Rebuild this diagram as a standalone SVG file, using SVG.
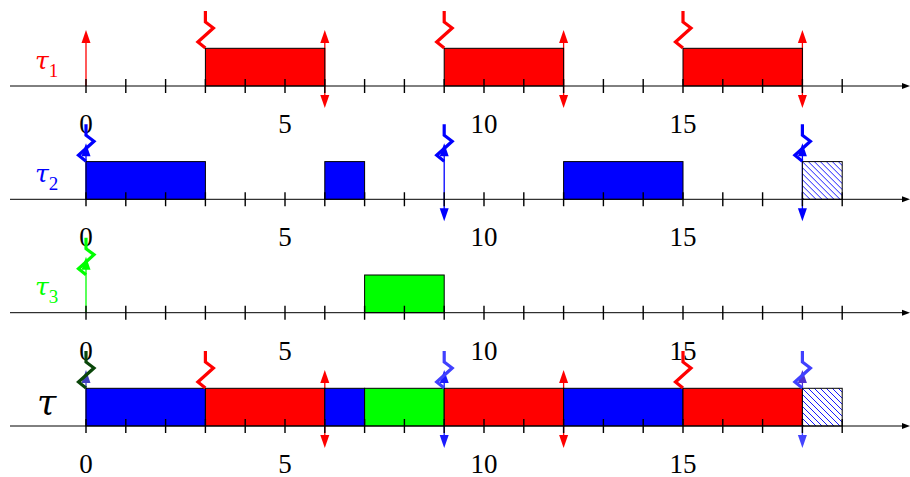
<svg xmlns="http://www.w3.org/2000/svg" xmlns:xlink="http://www.w3.org/1999/xlink" width="910" height="477" viewBox="0 0 910 477">
<style>
.axis{stroke:#000;stroke-width:1;fill:none}
.tick{stroke:#000;stroke-width:1.4;fill:none}
.bar{stroke:#000;stroke-width:1}
.num{font-family:"Liberation Serif","DejaVu Serif",serif;font-size:27px;fill:#000;text-anchor:middle}
.tau{font-family:"DejaVu Serif","Liberation Serif",serif;font-size:25px;font-style:italic}
.sub{font-family:"Liberation Serif","DejaVu Serif",serif;font-size:19px;font-style:normal}
.zz{fill:none;stroke-width:3.2;stroke-linejoin:miter}
.ln{stroke-width:1.3;fill:none}
</style>
<defs>
<pattern id="hatch" width="6" height="6" patternUnits="userSpaceOnUse">
<rect width="6" height="6" fill="#fff"/>
<path d="M-1,-1 L7,7 M-1,5 L1,7 M5,-1 L7,1" stroke="#0000ff" stroke-width="0.9"/>
</pattern>
<path id="zig" d="M0,-75 V-64 L8,-58 L-7.5,-44 L0,-38"/>
<path id="up" d="M0,-56 L-4.5,-43 L4.5,-43 Z"/>
<path id="dn" d="M0,22 L-4.5,9 L4.5,9 Z"/>
<g id="axisbase">
<path class="axis" d="M10,0 H905"/>
<path d="M910,0 L902,-3 L902,3 Z" fill="#000"/>
<path class="tick" d="M86,-7v14M125.8,-7v14M165.6,-7v14M205.4,-7v14M245.2,-7v14M285,-7v14M324.8,-7v14M364.6,-7v14M404.4,-7v14M444.2,-7v14M484,-7v14M523.8,-7v14M563.6,-7v14M603.4,-7v14M643.2,-7v14M683,-7v14M722.8,-7v14M762.6,-7v14M802.4,-7v14M842.2,-7v14"/>
</g>
<g id="nums">
<text class="num" x="86" y="47">0</text>
<text class="num" x="285" y="47">5</text>
<text class="num" x="484" y="47">10</text>
<text class="num" x="683" y="47">15</text>
</g>
</defs>

<g id="row1" transform="translate(0,86)">
<g id="row1-arrows">
<line class="ln" stroke="#ff0000" x1="86" y1="0" x2="86" y2="-44"/>
<use xlink:href="#up" x="86" fill="#ff0000"/>
<line class="ln" stroke="#ff0000" x1="324.8" y1="10" x2="324.8" y2="-44"/>
<use xlink:href="#up" x="324.8" fill="#ff0000"/><use xlink:href="#dn" x="324.8" fill="#ff0000"/>
<line class="ln" stroke="#ff0000" x1="563.6" y1="10" x2="563.6" y2="-44"/>
<use xlink:href="#up" x="563.6" fill="#ff0000"/><use xlink:href="#dn" x="563.6" fill="#ff0000"/>
<line class="ln" stroke="#ff0000" x1="802.4" y1="10" x2="802.4" y2="-44"/>
<use xlink:href="#up" x="802.4" fill="#ff0000"/><use xlink:href="#dn" x="802.4" fill="#ff0000"/>
</g>
<g id="row1-bars">
<rect class="bar" x="205.4" y="-37.7" width="119.4" height="37.7" fill="#ff0000"/>
<rect class="bar" x="444.2" y="-37.7" width="119.4" height="37.7" fill="#ff0000"/>
<rect class="bar" x="683" y="-37.7" width="119.4" height="37.7" fill="#ff0000"/>
</g>
<use xlink:href="#axisbase"/>
<use xlink:href="#nums"/>
<g id="row1-zig" class="zz" stroke="#ff0000">
<use xlink:href="#zig" x="205.4"/>
<use xlink:href="#zig" x="444.2"/>
<use xlink:href="#zig" x="683"/>
</g>
<text class="tau" x="35" y="-17.5" fill="#ff0000">τ<tspan class="sub" dy="8">1</tspan></text>
</g>

<g id="row2" transform="translate(0,199.3)">
<g id="row2-arrows">
<line class="ln" stroke="#0000ff" x1="86" y1="0" x2="86" y2="-44"/>
<use xlink:href="#up" x="86" fill="#0000ff"/>
<line class="ln" stroke="#0000ff" x1="444.2" y1="10" x2="444.2" y2="-44"/>
<use xlink:href="#up" x="444.2" fill="#0000ff"/><use xlink:href="#dn" x="444.2" fill="#0000ff"/>
<line class="ln" stroke="#0000ff" x1="802.4" y1="10" x2="802.4" y2="-44"/>
<use xlink:href="#up" x="802.4" fill="#0000ff"/><use xlink:href="#dn" x="802.4" fill="#0000ff"/>
</g>
<g id="row2-bars">
<rect class="bar" x="86" y="-37.7" width="119.4" height="37.7" fill="#0000ff"/>
<rect class="bar" x="324.8" y="-37.7" width="39.8" height="37.7" fill="#0000ff"/>
<rect class="bar" x="563.6" y="-37.7" width="119.4" height="37.7" fill="#0000ff"/>
<rect class="bar" x="802.4" y="-37.7" width="39.8" height="37.7" fill="url(#hatch)"/>
</g>
<use xlink:href="#axisbase"/>
<use xlink:href="#nums"/>
<g id="row2-zig" class="zz" stroke="#0000ff">
<use xlink:href="#zig" x="86"/>
<use xlink:href="#zig" x="444.2"/>
<use xlink:href="#zig" x="802.4"/>
</g>
<text class="tau" x="35" y="-17.5" fill="#0000ff">τ<tspan class="sub" dy="8">2</tspan></text>
</g>

<g id="row3" transform="translate(0,312.7)">
<g id="row3-arrows">
<line class="ln" stroke="#00ff00" x1="86" y1="0" x2="86" y2="-44"/>
<use xlink:href="#up" x="86" fill="#00ff00"/>
</g>
<g id="row3-bars">
<rect class="bar" x="364.6" y="-37.7" width="79.6" height="37.7" fill="#00ff00"/>
</g>
<use xlink:href="#axisbase"/>
<use xlink:href="#nums"/>
<g id="row3-zig" class="zz" stroke="#00ff00">
<use xlink:href="#zig" x="86"/>
</g>
<text class="tau" x="35" y="-17.5" fill="#00ff00">τ<tspan class="sub" dy="8">3</tspan></text>
</g>

<g id="row4" transform="translate(0,426)">
<g id="row4-arrows">
<line class="ln" stroke="#4040c0" x1="86" y1="0" x2="86" y2="-44"/>
<use xlink:href="#up" x="86" fill="#4040c0"/>
<line class="ln" stroke="#ff0000" x1="324.8" y1="10" x2="324.8" y2="-44"/>
<use xlink:href="#up" x="324.8" fill="#ff0000"/><use xlink:href="#dn" x="324.8" fill="#ff0000"/>
<line class="ln" stroke="#1a1aff" x1="444.2" y1="10" x2="444.2" y2="-44"/>
<use xlink:href="#up" x="444.2" fill="#1a1aff"/><use xlink:href="#dn" x="444.2" fill="#1a1aff"/>
<line class="ln" stroke="#ff0000" x1="563.6" y1="10" x2="563.6" y2="-44"/>
<use xlink:href="#up" x="563.6" fill="#ff0000"/><use xlink:href="#dn" x="563.6" fill="#ff0000"/>
<line class="ln" stroke="#5030d0" x1="802.4" y1="0" x2="802.4" y2="-44"/>
<use xlink:href="#up" x="802.4" fill="#5030d0"/>
<line class="ln" stroke="#4444ff" x1="802.4" y1="10" x2="802.4" y2="0"/>
<use xlink:href="#dn" x="802.4" fill="#4444ff"/>
</g>
<g id="row4-bars">
<rect class="bar" x="86" y="-37.7" width="119.4" height="37.7" fill="#0000ff"/>
<rect class="bar" x="205.4" y="-37.7" width="119.4" height="37.7" fill="#ff0000"/>
<rect class="bar" x="324.8" y="-37.7" width="39.8" height="37.7" fill="#0000ff"/>
<rect class="bar" x="364.6" y="-37.7" width="79.6" height="37.7" fill="#00ff00"/>
<rect class="bar" x="444.2" y="-37.7" width="119.4" height="37.7" fill="#ff0000"/>
<rect class="bar" x="563.6" y="-37.7" width="119.4" height="37.7" fill="#0000ff"/>
<rect class="bar" x="683" y="-37.7" width="119.4" height="37.7" fill="#ff0000"/>
<rect class="bar" x="802.4" y="-37.7" width="39.8" height="37.7" fill="url(#hatch)"/>
</g>
<use xlink:href="#axisbase"/>
<use xlink:href="#nums"/>
<g id="row4-zig" class="zz">
<use xlink:href="#zig" x="86" stroke="#0a460a"/>
<use xlink:href="#zig" x="205.4" stroke="#ff0000"/>
<use xlink:href="#zig" x="444.2" stroke="#4040ff"/>
<use xlink:href="#zig" x="683" stroke="#ff0000"/>
<use xlink:href="#zig" x="802.4" stroke="#4040ff"/>
</g>
<text class="tau" x="37" y="-11" fill="#000" style="font-size:35px">τ</text>
</g>
</svg>
